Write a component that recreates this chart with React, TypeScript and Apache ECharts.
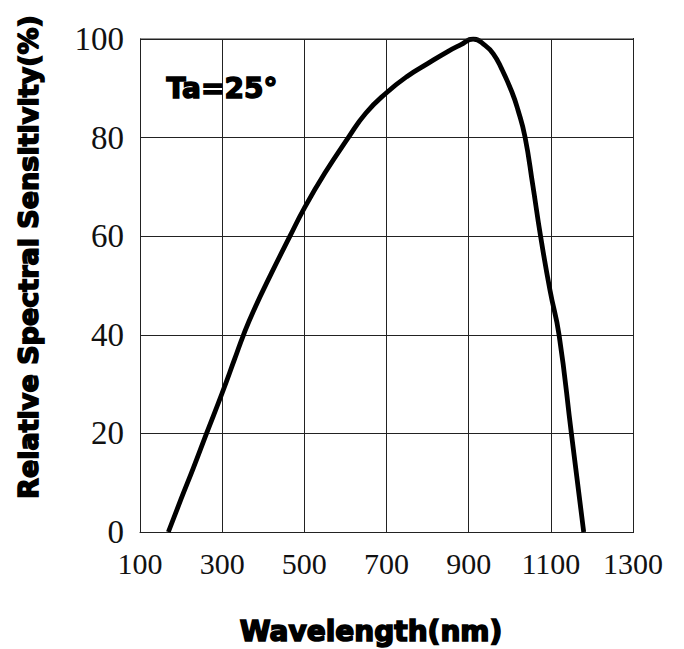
import React, { useEffect, useRef } from "react";
import * as echarts from "echarts";

const wavelengths = [169, 200, 230, 262, 300, 330, 352, 376, 420, 465, 500, 550, 607, 650, 700, 750, 800, 850, 880, 911, 940, 960, 980, 1005, 1020, 1037, 1056, 1075, 1098, 1120, 1150, 1180];
const sensitivity = [0, 6.7, 13, 20, 28.2, 35, 40, 44.8, 52.5, 60, 65.7, 72.8, 80, 85, 89.1, 92.4, 95, 97.5, 98.8, 100, 98.7, 97, 94, 89.3, 85.6, 80.2, 70.4, 60, 49, 40, 20, 0];
const xTicks = [100, 300, 500, 700, 900, 1100, 1300];
const yTicks = [0, 20, 40, 60, 80, 100];
const xTitle = "Wavelength(nm)";
const yTitle = "Relative Spectral Sensitivity(%)";
const note = "Ta=25°";

export default function App() {
  const ref = useRef<HTMLDivElement>(null);
  useEffect(() => {
    if (!ref.current) return;
    const chart = echarts.init(ref.current, null, { renderer: "svg" });
    const heavy = "'DejaVu Sans', Arial, sans-serif";
    const serif = "'Liberation Serif', 'DejaVu Serif', serif";
    chart.setOption({
      animation: false,
      backgroundColor: "#fff",
      grid: { left: 140, right: 51, top: 39, bottom: 117, containLabel: false },
      xAxis: {
        type: "value",
        min: xTicks[0],
        max: xTicks[xTicks.length - 1],
        interval: 200,
        axisLine: { show: true, lineStyle: { color: "#222", width: 1 } },
        axisTick: { show: false },
        splitLine: { show: true, lineStyle: { color: "#222", width: 1 } },
        axisLabel: {
          color: "#111",
          fontFamily: serif,
          fontSize: 30,
          margin: 16,
          formatter: (v: number) => String(v),
        },
      },
      yAxis: {
        type: "value",
        min: yTicks[0],
        max: yTicks[yTicks.length - 1],
        interval: 20,
        axisLine: { show: true, lineStyle: { color: "#222", width: 1 } },
        axisTick: { show: false },
        splitLine: { show: true, lineStyle: { color: "#222", width: 1 } },
        axisLabel: {
          color: "#111",
          fontFamily: serif,
          fontSize: 33,
          margin: 16,
          formatter: (v: number) => String(v),
        },
      },
      series: [
        {
          type: "line",
          data: wavelengths.map((w, i) => [w, sensitivity[i]]),
          smooth: 0.5,
          showSymbol: false,
          symbol: "none",
          lineStyle: { color: "#000", width: 4.8 },
          z: 5,
        },
      ],
      graphic: [
        {
          type: "rect",
          shape: { x: 633, y: 38, width: 1, height: 495 },
          style: { fill: "#222" },
          z: 10,
        },
        {
          type: "rect",
          shape: { x: 140, y: 38.5, width: 494, height: 1 },
          style: { fill: "#222" },
          z: 10,
        },
        {
          type: "text",
          x: 222,
          y: 88,
          style: {
            text: note,
            font: `bold 28px ${heavy}`,
            fill: "#000",
            stroke: "#000",
            lineWidth: 1.5,
            textAlign: "center",
            textVerticalAlign: "middle",
          },
          z: 10,
        },
        {
          type: "text",
          x: 371,
          y: 631,
          style: {
            text: xTitle,
            font: `bold 28px ${heavy}`,
            fill: "#000",
            stroke: "#000",
            lineWidth: 1.6,
            textAlign: "center",
            textVerticalAlign: "middle",
          },
          z: 10,
        },
        {
          type: "text",
          x: 28,
          y: 257,
          rotation: Math.PI / 2,
          style: {
            text: yTitle,
            font: `bold 27px ${heavy}`,
            fill: "#000",
            stroke: "#000",
            lineWidth: 1.6,
            textAlign: "center",
            textVerticalAlign: "middle",
          },
          z: 10,
        },
      ],
    });
    return () => chart.dispose();
  }, []);
  return <div ref={ref} style={{ width: 684, height: 649, position: "absolute", left: 0, top: 0 }} />;
}
